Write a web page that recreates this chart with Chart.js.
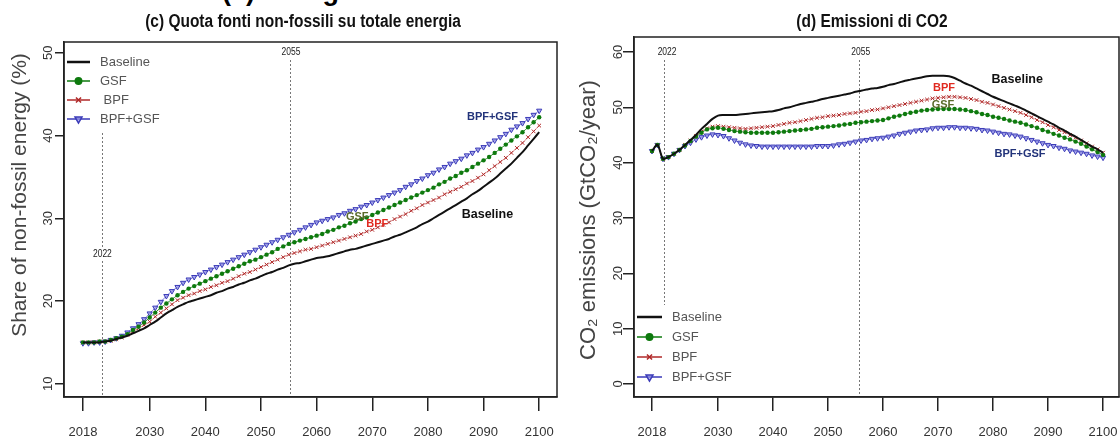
<!DOCTYPE html>
<html>
<head>
<meta charset="utf-8">
<script src="https://cdn.jsdelivr.net/npm/chart.js@4.4.1/dist/chart.umd.min.js"></script>
<style>
  body { margin: 0; background: #fff; width: 1120px; height: 442px; overflow: hidden; position: relative; }
  #head { position: absolute; left: 222px; top: -24px; font: bold 27px "Liberation Sans", Arial, sans-serif; color: #000; white-space: nowrap; }
  canvas { position: absolute; top: 0; }
  #shareChart { left: 0; }
  #co2Chart { left: 560px; }
</style>
</head>
<body>
<div id="head">(a) Energia</div>
<canvas id="shareChart" width="560" height="442"></canvas>
<canvas id="co2Chart" width="560" height="442"></canvas>
<script>
// years on the x axis, one point per year
const years = Array.from({ length: 83 }, (_, i) => 2018 + i);
const xTicks = [2018, 2030, 2040, 2050, 2060, 2070, 2080, 2090, 2100];
const shareTicks = [10, 20, 30, 40, 50];
const co2Ticks = [0, 10, 20, 30, 40, 50, 60];
const seriesNames = ['Baseline', 'GSF', 'BPF', 'BPF+GSF'];

// (c) share of non-fossil energy, %
const shareBaseline = [
  15.0, 15.0, 15.0, 15.0, 15.1, 15.2, 15.4, 15.6, 15.8, 16.1,
  16.4, 16.7, 17.1, 17.5, 18.0, 18.5, 18.9, 19.3, 19.6, 19.9,
  20.1, 20.3, 20.5, 20.7, 21.0, 21.2, 21.5, 21.7, 22.0, 22.2,
  22.5, 22.7, 23.0, 23.3, 23.5, 23.8, 24.0, 24.3, 24.5, 24.6,
  24.8, 25.0, 25.2, 25.3, 25.4, 25.6, 25.8, 26.0, 26.2, 26.3,
  26.5, 26.7, 26.9, 27.1, 27.3, 27.5, 27.8, 28.0, 28.3, 28.6,
  28.9, 29.3, 29.6, 30.0, 30.4, 30.8, 31.2, 31.6, 32.0, 32.4,
  32.9, 33.3, 33.8, 34.3, 34.8, 35.4, 36.0, 36.6, 37.3, 38.0,
  38.8, 39.6, 40.4
];
const shareGSF = [
  15.0, 15.0, 15.0, 15.1, 15.1, 15.3, 15.5, 15.7, 16.0, 16.5,
  16.9, 17.4, 18.0, 18.6, 19.2, 19.7, 20.2, 20.7, 21.1, 21.5,
  21.8, 22.1, 22.4, 22.7, 23.0, 23.3, 23.6, 23.9, 24.2, 24.5,
  24.8, 25.0, 25.3, 25.6, 25.9, 26.3, 26.6, 26.9, 27.1, 27.3,
  27.5, 27.7, 27.9, 28.1, 28.4, 28.6, 28.9, 29.1, 29.4, 29.6,
  29.9, 30.1, 30.4, 30.7, 31.0, 31.3, 31.6, 31.9, 32.2, 32.5,
  32.8, 33.1, 33.4, 33.7, 34.1, 34.4, 34.8, 35.1, 35.5, 35.8,
  36.2, 36.6, 37.0, 37.4, 37.9, 38.4, 38.9, 39.4, 39.9, 40.4,
  41.0, 41.6, 42.2
];
const shareBPF = [
  15.0, 15.0, 15.0, 15.1, 15.1, 15.2, 15.4, 15.6, 15.9, 16.3,
  16.7, 17.1, 17.5, 18.1, 18.6, 19.1, 19.6, 20.1, 20.4, 20.7,
  20.9, 21.2, 21.4, 21.7, 21.9, 22.2, 22.4, 22.7, 23.0, 23.3,
  23.5, 23.8, 24.1, 24.4, 24.7, 25.0, 25.3, 25.6, 25.8, 26.0,
  26.2, 26.3, 26.5, 26.7, 26.9, 27.1, 27.3, 27.5, 27.7, 27.9,
  28.1, 28.4, 28.6, 28.9, 29.2, 29.5, 29.9, 30.2, 30.5, 30.9,
  31.2, 31.6, 31.9, 32.2, 32.5, 32.9, 33.2, 33.5, 33.8, 34.2,
  34.5, 34.9, 35.3, 35.8, 36.3, 36.8, 37.3, 37.9, 38.5, 39.1,
  39.8, 40.5, 41.2
];
const shareBoth = [
  14.9, 14.9, 15.0, 15.0, 15.1, 15.3, 15.5, 15.8, 16.2, 16.7,
  17.2, 17.8, 18.5, 19.2, 19.9, 20.6, 21.2, 21.7, 22.2, 22.6,
  22.9, 23.2, 23.5, 23.8, 24.1, 24.4, 24.7, 25.0, 25.3, 25.6,
  25.9, 26.2, 26.5, 26.8, 27.1, 27.4, 27.7, 28.0, 28.3, 28.6,
  28.9, 29.2, 29.5, 29.7, 29.9, 30.1, 30.4, 30.6, 30.9, 31.1,
  31.4, 31.6, 31.9, 32.2, 32.5, 32.8, 33.1, 33.4, 33.8, 34.1,
  34.5, 34.8, 35.2, 35.5, 35.9, 36.2, 36.6, 36.9, 37.2, 37.6,
  37.9, 38.3, 38.6, 39.0, 39.4, 39.8, 40.2, 40.7, 41.1, 41.5,
  42.0, 42.5, 43.0
];

// (d) CO2 emissions, GtCO2/year
const co2Baseline = [
  42.1, 43.2, 40.7, 41.0, 41.6, 42.3, 43.2, 44.1, 45.0, 46.1,
  47.0, 47.9, 48.5, 48.6, 48.6, 48.6, 48.7, 48.8, 48.9, 49.0,
  49.1, 49.2, 49.3, 49.5, 49.8, 50.0, 50.3, 50.6, 50.8, 51.0,
  51.2, 51.5, 51.7, 51.9, 52.1, 52.3, 52.5, 52.8, 53.0, 53.2,
  53.4, 53.5, 53.7, 54.0, 54.2, 54.5, 54.8, 55.0, 55.2, 55.4,
  55.6, 55.7, 55.7, 55.7, 55.6, 55.3, 54.8, 54.3, 53.9, 53.4,
  52.9, 52.4, 51.9, 51.5, 51.1, 50.7, 50.3, 49.9, 49.4, 48.9,
  48.4, 47.9, 47.4, 46.9, 46.3, 45.8, 45.2, 44.7, 44.1, 43.5,
  42.9, 42.4, 41.8
];
const co2GSF = [
  42.1, 43.2, 40.7, 41.0, 41.6, 42.3, 43.1, 43.9, 44.7, 45.4,
  46.0, 46.2, 46.3, 46.1, 45.9, 45.7, 45.6, 45.5, 45.4, 45.4,
  45.4, 45.4, 45.4, 45.5, 45.6, 45.7, 45.8, 45.9, 46.0, 46.1,
  46.3, 46.4, 46.5, 46.6, 46.7, 46.9, 47.0, 47.2, 47.3, 47.4,
  47.5, 47.6, 47.7, 48.0, 48.3, 48.5, 48.8, 49.0, 49.2, 49.4,
  49.5, 49.6, 49.7, 49.7, 49.7, 49.7, 49.6, 49.5, 49.3, 49.1,
  48.8, 48.6, 48.3, 48.1, 47.9, 47.6, 47.4, 47.2, 46.9, 46.6,
  46.3, 45.9, 45.6, 45.2, 44.9, 44.5, 44.2, 43.8, 43.4, 42.9,
  42.4, 41.9, 41.4
];
const co2BPF = [
  42.1, 43.2, 40.7, 41.0, 41.6, 42.3, 43.2, 44.0, 44.8, 45.6,
  46.2, 46.5, 46.6, 46.5, 46.4, 46.3, 46.2, 46.1, 46.2, 46.3,
  46.4, 46.5, 46.6, 46.8, 47.0, 47.2, 47.3, 47.5, 47.7, 47.9,
  48.1, 48.2, 48.4, 48.5, 48.6, 48.8, 48.9, 49.0, 49.2, 49.3,
  49.5, 49.6, 49.8, 50.0, 50.2, 50.4, 50.6, 50.8, 51.0, 51.2,
  51.4, 51.6, 51.7, 51.8, 51.9, 51.9, 51.8, 51.7, 51.5, 51.3,
  51.0, 50.8, 50.5, 50.2, 49.9, 49.6, 49.3, 49.0, 48.6, 48.2,
  47.7, 47.3, 46.8, 46.4, 45.9, 45.5, 45.0, 44.5, 44.0, 43.5,
  42.9, 42.4, 41.8
];
const co2Both = [
  42.1, 43.2, 40.7, 41.0, 41.6, 42.3, 43.0, 43.6, 44.2, 44.6,
  44.9, 45.1, 45.0, 44.8, 44.4, 44.0, 43.6, 43.3, 43.1, 43.0,
  42.9, 42.9, 42.9, 42.9, 42.9, 42.9, 42.9, 42.9, 42.9, 42.9,
  43.0, 43.0, 43.0, 43.1, 43.3, 43.4, 43.6, 43.8, 44.0, 44.1,
  44.3, 44.4, 44.5, 44.7, 44.9, 45.2, 45.4, 45.6, 45.8, 45.9,
  46.0, 46.2, 46.3, 46.3, 46.4, 46.4, 46.3, 46.3, 46.2, 46.1,
  45.9, 45.8, 45.6, 45.4, 45.2, 45.1, 44.9, 44.7, 44.4, 44.1,
  43.8, 43.5, 43.2, 43.0, 42.7, 42.5, 42.2, 42.0, 41.8, 41.6,
  41.3, 41.1, 40.9
];

const styles = [
  { borderColor: '#111', borderWidth: 2, pointRadius: 0, pointStyle: 'line' },
  { borderColor: '#2a8a2a', borderWidth: 1, pointRadius: 2.2, pointStyle: 'circle',
    pointBackgroundColor: '#0e7a0e', pointBorderColor: '#0e7a0e', pointBorderWidth: 0 },
  { borderColor: '#d68a8a', borderWidth: 1, pointRadius: 2.6, pointStyle: 'crossRot',
    pointBackgroundColor: '#b02828', pointBorderColor: '#b02828', pointBorderWidth: 1 },
  { borderColor: '#7a7ad8', borderWidth: 1, pointRadius: 3, pointStyle: 'triangle', pointRotation: 180,
    pointBackgroundColor: 'rgba(150,150,230,0.7)', pointBorderColor: '#3a3ab8', pointBorderWidth: 1 }
];

function makeSets(seriesList) {
  return seriesList.map((vals, i) => Object.assign({
    label: seriesNames[i],
    data: years.map((yr, k) => ({ x: yr, y: vals[k] })),
    tension: 0.3,
    fill: false
  }, styles[i]));
}

const FONT = '"Liberation Sans", Arial, sans-serif';

const panelPlugin = {
  id: 'panel',
  beforeDatasetsDraw(chart, args, o) {
    const { ctx, scales: { x } } = chart;
    ctx.save();
    ctx.strokeStyle = '#777';
    ctx.lineWidth = 1;
    ctx.setLineDash([2, 2]);
    o.refs.forEach(r => {
      const px = Math.round(x.getPixelForValue(r.at)) + 0.5;
      ctx.beginPath();
      ctx.moveTo(px, r.from);
      ctx.lineTo(px, r.to);
      ctx.stroke();
    });
    ctx.restore();
  },
  afterDraw(chart, args, o) {
    const { ctx, chartArea: a, scales: { x, y } } = chart;
    ctx.save();
    // frame
    ctx.strokeStyle = '#222';
    ctx.lineWidth = 1.5;
    ctx.strokeRect(a.left, a.top, a.right - a.left, a.bottom - a.top);

    // title, squeezed to look like a narrow face
    ctx.fillStyle = '#111';
    ctx.font = 'bold 18px ' + FONT;
    ctx.textAlign = 'center';
    ctx.textBaseline = 'middle';
    ctx.save();
    ctx.translate(o.titleX, o.titleY);
    ctx.scale(0.86, 1);
    ctx.fillText(o.title, 0, 0);
    ctx.restore();

    // rotated y tick labels
    ctx.fillStyle = '#333';
    ctx.font = '13px ' + FONT;
    o.yTicks.forEach(v => {
      ctx.save();
      ctx.translate(o.yLabelX, y.getPixelForValue(v));
      ctx.rotate(-Math.PI / 2);
      ctx.fillText(String(v), 0, 0);
      ctx.restore();
    });

    // y axis title
    ctx.save();
    ctx.translate(o.axisTitleX, o.axisTitleY);
    ctx.rotate(-Math.PI / 2);
    ctx.fillStyle = '#444';
    ctx.font = o.axisSize + 'px ' + FONT;
    ctx.fillText(o.axisTitle, 0, 0);
    ctx.restore();

    // labels of the reference lines
    ctx.font = '10px ' + FONT;
    o.refs.forEach(r => {
      const px = x.getPixelForValue(r.at) + r.dx;
      ctx.save();
      ctx.translate(px, r.labelY);
      ctx.scale(0.85, 1);
      const w = ctx.measureText(r.text).width;
      ctx.fillStyle = '#fff';
      ctx.fillRect(-w / 2 - 1, -6, w + 2, 12);
      ctx.fillStyle = '#222';
      ctx.fillText(r.text, 0, 0);
      ctx.restore();
    });

    // inline labels
    o.notes.forEach(n => {
      ctx.fillStyle = n.color;
      ctx.font = 'bold ' + n.size + 'px ' + FONT;
      ctx.fillText(n.text, x.getPixelForValue(n.x), y.getPixelForValue(n.y));
    });

    // legend
    const L = o.legend;
    ctx.textAlign = 'left';
    ctx.font = '13px ' + FONT;
    chart.data.datasets.forEach((ds, i) => {
      const ry = L.y0 + i * L.dy;
      ctx.strokeStyle = i === 0 ? '#111' : ds.pointBorderColor;
      ctx.lineWidth = i === 0 ? 2.5 : 1.5;
      ctx.setLineDash([]);
      ctx.beginPath();
      ctx.moveTo(L.x0, ry);
      ctx.lineTo(L.x1, ry);
      ctx.stroke();
      if (ds.pointRadius > 0) {
        ctx.fillStyle = ds.pointBackgroundColor;
        ctx.strokeStyle = ds.pointBorderColor;
        ctx.lineWidth = 1.5;
        Chart.helpers.drawPoint(ctx, {
          pointStyle: ds.pointStyle, rotation: ds.pointRotation || 0,
          radius: ds.pointRadius + 1, borderWidth: 1.5
        }, (L.x0 + L.x1) / 2, ry);
      }
      ctx.fillStyle = '#555';
      ctx.fillText(L.names[i], L.tx, ry);
    });
    ctx.restore();
  }
};

function makeChart(id, sets, p) {
  return new Chart(document.getElementById(id), {
    type: 'line',
    data: { datasets: sets },
    options: {
      responsive: false,
      animation: false,
      devicePixelRatio: 1,
      layout: { padding: p.padding, autoPadding: false },
      plugins: { legend: { display: false }, tooltip: { enabled: false }, title: { display: false }, panel: p.panel },
      scales: {
        x: {
          type: 'linear', min: p.xMin, max: p.xMax,
          afterBuildTicks: s => { s.ticks = xTicks.map(v => ({ value: v })); },
          afterFit: s => { s.height = 45; s.paddingLeft = 0; s.paddingRight = 0; },
          grid: { drawOnChartArea: false, drawTicks: true, tickLength: 14, color: '#222', lineWidth: 1.5 },
          border: { display: true, color: '#222', width: 1.5 },
          ticks: { color: '#333', font: { size: 13, family: FONT }, padding: 14, maxRotation: 0, autoSkip: false,
                   callback: v => String(v) }
        },
        y: {
          type: 'linear', min: p.yMin, max: p.yMax,
          afterBuildTicks: s => { s.ticks = p.yTicks.map(v => ({ value: v })); },
          afterFit: s => { s.width = p.yWidth; s.paddingTop = 0; s.paddingBottom = 0; },
          grid: { drawOnChartArea: false, drawTicks: true, tickLength: p.tickLen, color: '#222', lineWidth: 1.5 },
          border: { display: true, color: '#222', width: 1.5 },
          ticks: { display: false }
        }
      }
    },
    plugins: [panelPlugin]
  });
}

makeChart('shareChart', makeSets([shareBaseline, shareGSF, shareBPF, shareBoth]), {
  padding: { left: 0, right: 3, top: 42, bottom: 0 },
  xMin: 2014.6, xMax: 2103.2, yMin: 8.4, yMax: 51.3, yTicks: shareTicks, yWidth: 64, tickLen: 9,
  panel: {
    title: '(c) Quota fonti non-fossili su totale energia', titleX: 303, titleY: 22,
    yTicks: shareTicks, yLabelX: 48,
    axisTitle: 'Share of non-fossil energy (%)', axisSize: 21, axisTitleX: 20, axisTitleY: 195,
    refs: [
      { at: 2021.5, from: 133, to: 396, text: '2022', labelY: 254, dx: 0 },
      { at: 2055.2, from: 60, to: 396, text: '2055', labelY: 52, dx: 1 }
    ],
    notes: [
      { text: 'BPF+GSF', x: 2091.6, y: 42.2, color: '#22337a', size: 11 },
      { text: 'Baseline', x: 2090.7, y: 30.4, color: '#111', size: 12.5 },
      { text: 'GSF', x: 2067.3, y: 30.2, color: '#5a6b2a', size: 11 },
      { text: 'BPF', x: 2070.9, y: 29.3, color: '#e02a20', size: 11 }
    ],
    legend: { x0: 67, x1: 90, tx: 100, y0: 62, dy: 19, names: ['Baseline', 'GSF', ' BPF', 'BPF+GSF'] }
  }
});

makeChart('co2Chart', makeSets([co2Baseline, co2GSF, co2BPF, co2Both]), {
  padding: { left: 0, right: 1, top: 37, bottom: 0 },
  xMin: 2014.73, xMax: 2102.9, yMin: -2.35, yMax: 62.7, yTicks: co2Ticks, yWidth: 74, tickLen: 11,
  panel: {
    title: '(d) Emissioni di CO2', titleX: 312, titleY: 22,
    yTicks: co2Ticks, yLabelX: 58,
    axisTitle: 'CO\u2082 emissions (GtCO\u2082/year)', axisSize: 22, axisTitleX: 29, axisTitleY: 220,
    refs: [
      { at: 2020.2, from: 60, to: 305, text: '2022', labelY: 52, dx: 3 },
      { at: 2055.6, from: 60, to: 396, text: '2055', labelY: 52, dx: 2 }
    ],
    notes: [
      { text: 'Baseline', x: 2084.4, y: 55.0, color: '#111', size: 12.5 },
      { text: 'BPF', x: 2071.1, y: 53.5, color: '#e02a20', size: 11 },
      { text: 'GSF', x: 2070.9, y: 50.5, color: '#5a6b2a', size: 11 },
      { text: 'BPF+GSF', x: 2084.9, y: 41.6, color: '#22337a', size: 11 }
    ],
    legend: { x0: 77, x1: 102, tx: 112, y0: 317, dy: 20, names: ['Baseline', 'GSF', 'BPF', 'BPF+GSF'] }
  }
});
</script>
</body>
</html>
